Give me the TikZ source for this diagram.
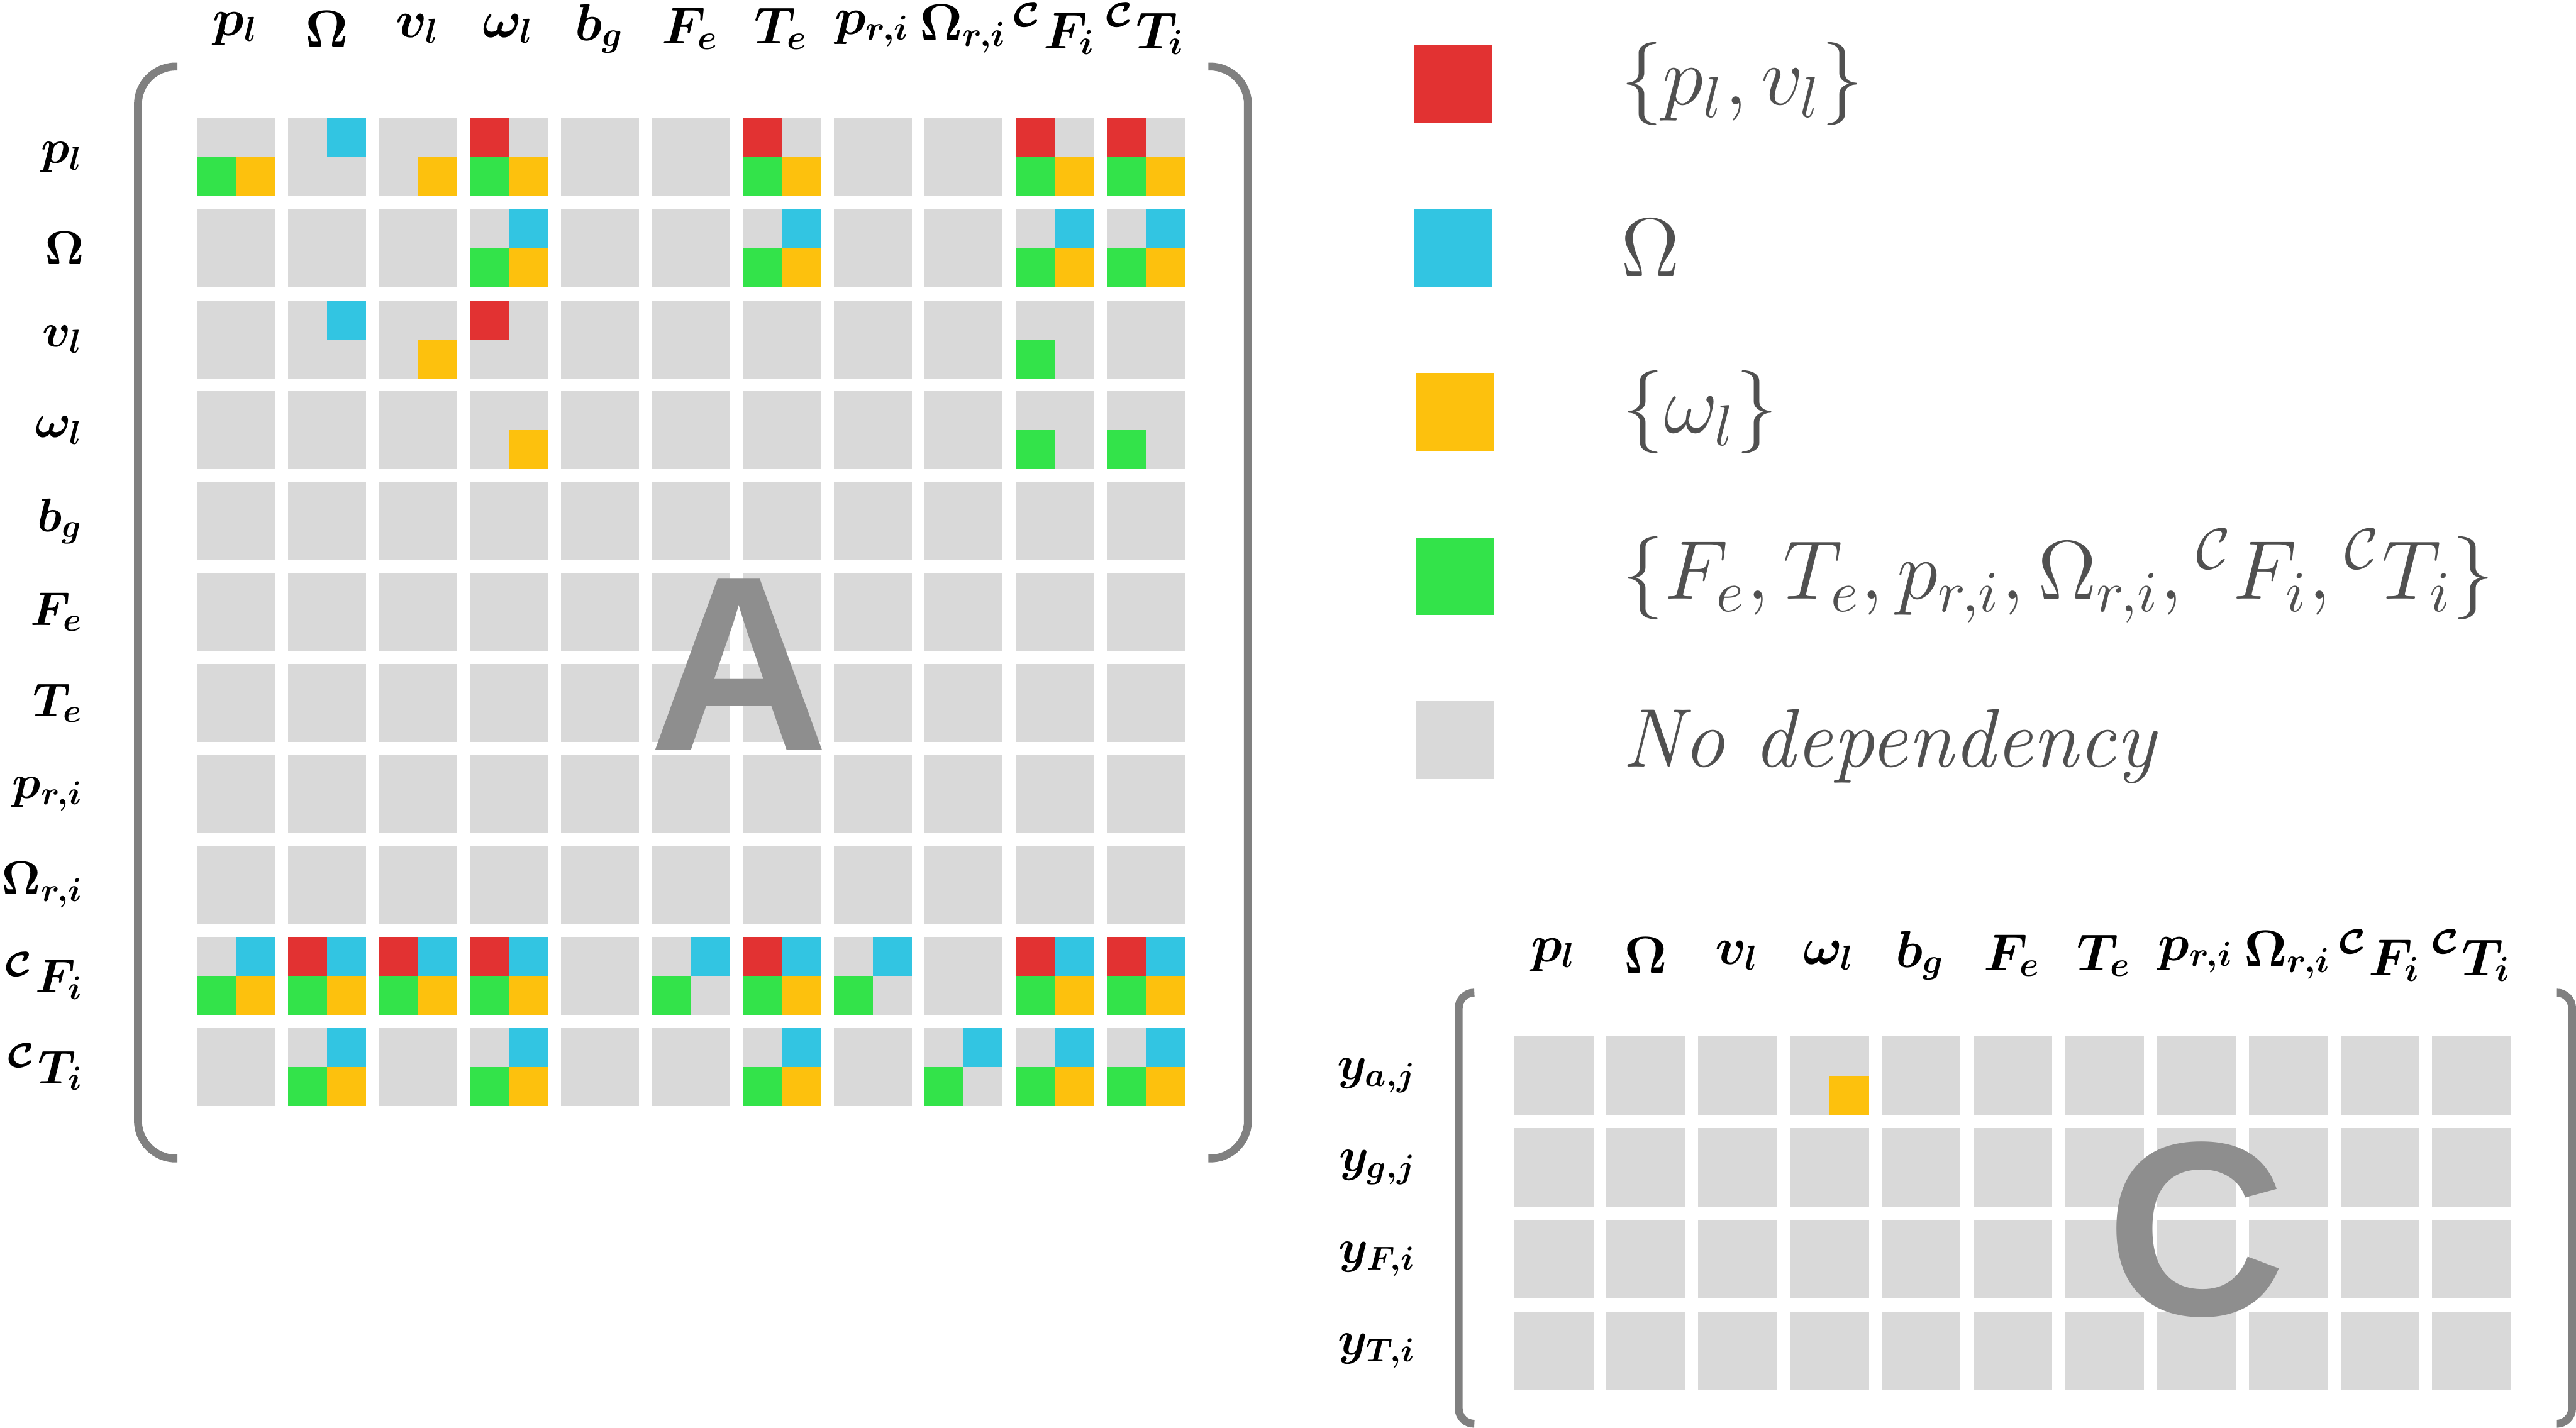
\documentclass[tikz,border=0pt]{standalone}
\usepackage{amsmath}
\usepackage{fontspec}
\newfontfamily\lettersans{Liberation Sans}
\usetikzlibrary{positioning}
% scalable bold math, so that odd sizes are kept
\DeclareFontShape{OML}{cmm}{b}{it}{<->cmmib10}{}
\DeclareFontShape{OT1}{cmr}{bx}{n}{<->cmbx10}{}

\definecolor{depred}{RGB}{226,50,50}
\definecolor{depblue}{RGB}{50,197,226}
\definecolor{deporange}{RGB}{253,193,13}
\definecolor{depgreen}{RGB}{51,227,74}
\definecolor{nodep}{RGB}{217,217,217}
\definecolor{brackgray}{RGB}{128,128,128}
\definecolor{lettergray}{RGB}{142,142,142}
\definecolor{legendgray}{RGB}{80,80,80}

\begin{document}
\begin{tikzpicture}[x=0.01cm, y=-0.01cm,
  colhead/.style={inner sep=0pt, font=\fontsize{9}{11}\selectfont\boldmath},
  rowhead/.style={inner sep=0pt, anchor=east, font=\fontsize{8.2}{10}\selectfont\boldmath},
  bracket/.style={draw=brackgray, line width=1.37pt},
  bigletter/.style={inner sep=0pt, text=lettergray, font=\fontsize{43}{47}\selectfont\lettersans\bfseries},
  legbox/.style={minimum size=0.473cm, inner sep=0pt},
  legtext/.style={inner sep=0pt, anchor=west, text=legendgray, font=\fontsize{14.4}{17}\selectfont}]
\useasboundingbox (0,0) rectangle (1568,869);

% matrix A
\foreach \r in {1,...,11}
  \foreach \c in {1,...,11}
    \fill[nodep] ({120+(\c-1)*55.36},{72.1+(\r-1)*55.36}) rectangle +(47.5,47.5);
\foreach \r/\c in {1/4,1/7,1/10,1/11,3/4,10/2,10/3,10/4,10/7,10/10,10/11}
  \fill[depred] ({120+(\c-1)*55.36},{72.1+(\r-1)*55.36}) rectangle +(23.75,23.75);
\foreach \r/\c in {1/2,2/4,2/7,2/10,2/11,3/2,10/1,10/2,10/3,10/4,10/6,10/7,10/8,10/10,10/11,
                   11/2,11/4,11/7,11/9,11/10,11/11}
  \fill[depblue] ({143.75+(\c-1)*55.36},{72.1+(\r-1)*55.36}) rectangle +(23.75,23.75);
\foreach \r/\c in {1/1,1/3,1/4,1/7,1/10,1/11,2/4,2/7,2/10,2/11,3/3,4/4,10/1,10/2,10/3,10/4,10/7,10/10,10/11,
                   11/2,11/4,11/7,11/10,11/11}
  \fill[deporange] ({143.75+(\c-1)*55.36},{95.85+(\r-1)*55.36}) rectangle +(23.75,23.75);
\foreach \r/\c in {1/1,1/4,1/7,1/10,1/11,2/4,2/7,2/10,2/11,3/10,4/10,4/11,10/1,10/2,10/3,10/4,10/6,10/7,10/8,10/10,10/11,
                   11/2,11/4,11/7,11/9,11/10,11/11}
  \fill[depgreen] ({120+(\c-1)*55.36},{95.85+(\r-1)*55.36}) rectangle +(23.75,23.75);

\foreach \lab [count=\i] in {p_l,\Omega,v_l,\omega_l,b_g,F_e,T_e,{p_{r,i}},{\Omega_{r,i}},{{}^{\mathcal{C}}F_i},{{}^{\mathcal{C}}T_i}} {
  \node[colhead] (colA\i) at ({143.75+(\i-1)*55.36},17.5) {$\lab$};
  \node[rowhead] (rowA\i) at (52,{95.85+(\i-1)*55.36}) {$\lab$};
}

\draw[bracket, rounded corners=0.23cm] (108,40.5) -- (84,40.5) -- (84,705.3) -- (108,705.3);
\draw[bracket, rounded corners=0.23cm] (735.5,40.5) -- (759.6,40.5) -- (759.6,705.3) -- (735.5,705.3);
\node[bigletter] (letA) at (449.7,404.3) {A};

% matrix C
\foreach \r in {1,...,4}
  \foreach \c in {1,...,11}
    \fill[nodep] ({922+(\c-1)*55.85},{630.8+(\r-1)*55.85}) rectangle +(48,48);
\fill[deporange] ({946+3*55.85},654.8) rectangle +(24,24);

\foreach \lab [count=\i] in {p_l,\Omega,v_l,\omega_l,b_g,F_e,T_e,{p_{r,i}},{\Omega_{r,i}},{{}^{\mathcal{C}}F_i},{{}^{\mathcal{C}}T_i}}
  \node[colhead] (colC\i) at ({946+(\i-1)*55.85},581.6) {$\lab$};
\foreach \lab [count=\i] in {{y_{a,j}},{y_{g,j}},{y_{F,i}},{y_{T,i}}}
  \node[rowhead] (rowC\i) at (863.5,{654.8+(\i-1)*55.85}) {$\lab$};

\draw[bracket, rounded corners=0.094cm] (897.3,604.3) -- (887.9,604.3) -- (887.9,866.8) -- (897.3,866.8);
\draw[bracket, rounded corners=0.094cm] (1556,604.3) -- (1565.6,604.3) -- (1565.6,866.8) -- (1556,866.8);
\node[bigletter] (letC) at (1337,748.6) {C};

% legend
\node[legbox, fill=depred] (keyred) at (884.5,51) {};
\node[legbox, fill=depblue] (keyblue) at (884.5,150.8) {};
\node[legbox, fill=deporange] (keyorange) at (885.5,250.8) {};
\node[legbox, fill=depgreen] (keygreen) at (885.5,350.8) {};
\node[legbox, fill=nodep] (keynone) at (885.5,450.5) {};
\node[legtext, right=0.77cm of keyred] (txtred) {$\{p_l, v_l\}$};
\node[legtext, right=0.77cm of keyblue] (txtblue) {$\Omega$};
\node[legtext, right=0.77cm of keyorange] (txtorange) {$\{\omega_l\}$};
\node[legtext, right=0.77cm of keygreen] (txtgreen) {$\{F_e, T_e, p_{r,i}, \Omega_{r,i}, {}^{\mathcal{C}}F_i, {}^{\mathcal{C}}T_i\}$};
\node[legtext, right=0.77cm of keynone, yshift=-0.04cm] (txtnone) {\textit{No dependency}};
\end{tikzpicture}
\end{document}
